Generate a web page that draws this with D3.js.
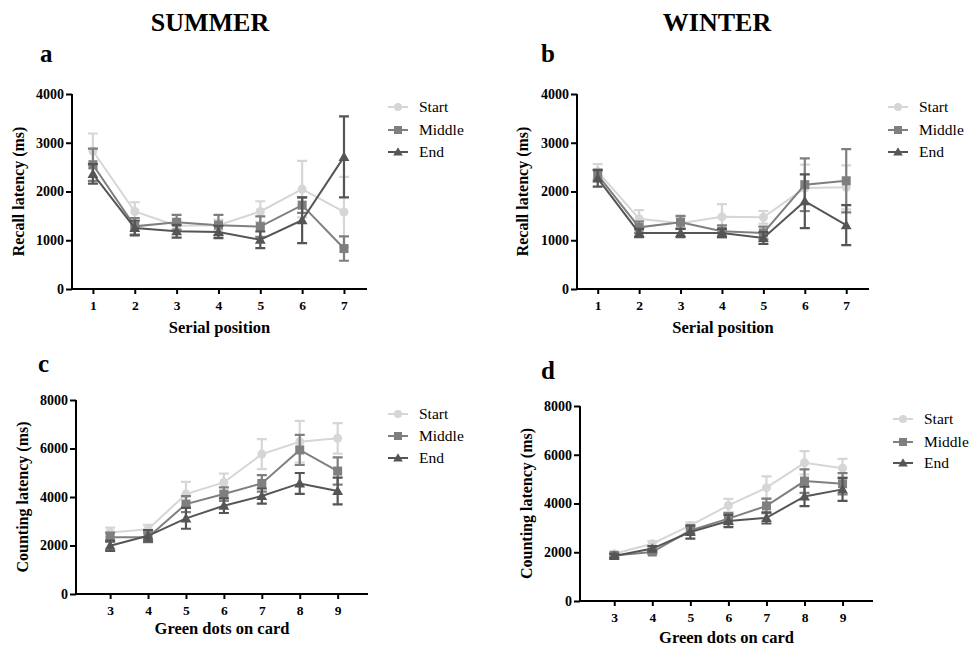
<!DOCTYPE html>
<html><head><meta charset="utf-8">
<script src="https://cdn.jsdelivr.net/npm/d3@7"></script>
<style>body{margin:0;background:#fff}svg{display:block}</style>
</head><body>
<svg id="chart" width="973" height="648"></svg>
<script>
// ---- data ----
const seriesNames = ["Start", "Middle", "End"];
const serialPositions = [1, 2, 3, 4, 5, 6, 7];
const greenDots = [3, 4, 5, 6, 7, 8, 9];

// Panel a: summer recall latency (ms)
const aStart = [2830, 1590, 1300, 1310, 1590, 2050, 1580];
const aStartErr = [360, 190, 110, 110, 210, 580, 720];
const aMiddle = [2550, 1285, 1370, 1310, 1280, 1720, 830];
const aMiddleErr = [330, 170, 150, 210, 210, 160, 250];
const aEnd = [2360, 1250, 1185, 1170, 1010, 1410, 2710];
const aEndErr = [200, 150, 130, 125, 170, 470, 830];

// Panel b: winter recall latency (ms)
const bStart = [2410, 1440, 1350, 1480, 1470, 2070, 2085];
const bStartErr = [150, 180, 120, 260, 130, 480, 450];
const bMiddle = [2340, 1265, 1370, 1185, 1150, 2140, 2220];
const bMiddleErr = [110, 120, 130, 120, 130, 540, 650];
const bEnd = [2270, 1150, 1150, 1150, 1045, 1800, 1310];
const bEndErr = [170, 85, 85, 85, 120, 550, 410];

// Panel c: summer counting latency (ms)
const cStart = [2540, 2670, 4120, 4600, 5770, 6280, 6420];
const cStartErr = [200, 180, 500, 370, 620, 860, 630];
const cMiddle = [2340, 2340, 3710, 4120, 4560, 5940, 5070];
const cMiddleErr = [190, 200, 330, 280, 340, 620, 560];
const cEnd = [1990, 2400, 3120, 3640, 4040, 4560, 4250];
const cEndErr = [210, 230, 430, 300, 310, 430, 550];

// Panel d: winter counting latency (ms)
const dStart = [1940, 2350, 3100, 3920, 4650, 5670, 5450];
const dStartErr = [90, 110, 120, 270, 460, 480, 380];
const dMiddle = [1870, 2010, 2900, 3380, 3900, 4920, 4810];
const dMiddleErr = [70, 80, 150, 230, 300, 480, 440];
const dEnd = [1850, 2150, 2830, 3280, 3410, 4290, 4580];
const dEndErr = [80, 100, 270, 250, 230, 400, 470];

const yTicksRecall = [0, 1000, 2000, 3000, 4000];
const yTicksCount = [0, 2000, 4000, 6000, 8000];

const columnTitles = ["SUMMER", "WINTER"];
const panelLetters = ["a", "b", "c", "d"];

// ---- drawing ----
const colors = {Start: "#d6d6d6", Middle: "#7f7f7f", End: "#555555"};
const serif = "'Liberation Serif','Times New Roman',serif";
const svg = d3.select("#chart");

svg.append("text").attr("x", 210).attr("y", 31).attr("text-anchor", "middle")
  .attr("font-family", serif).attr("font-weight", "bold").attr("font-size", 26).text(columnTitles[0]);
svg.append("text").attr("x", 717).attr("y", 31).attr("text-anchor", "middle")
  .attr("font-family", serif).attr("font-weight", "bold").attr("font-size", 26).text(columnTitles[1]);

const panels = [
  {letter: panelLetters[0], lx: 40, ly: 62, x0: 72, x1: 367, y0: 289, y1: 94, xd: [0.5, 7.55], xs: serialPositions,
   ymax: 4000, yt: yTicksRecall, ylab: "Recall latency (ms)", xlab: "Serial position", ylabX: 18, xlabOff: 44,
   series: [[aStart, aStartErr], [aMiddle, aMiddleErr], [aEnd, aEndErr]], legX: 388, legY: [107, 130, 152]},
  {letter: panelLetters[1], lx: 541, ly: 62, x0: 577, x1: 869, y0: 289, y1: 94, xd: [0.5, 7.55], xs: serialPositions,
   ymax: 4000, yt: yTicksRecall, ylab: "Recall latency (ms)", xlab: "Serial position", ylabX: 522, xlabOff: 44,
   series: [[bStart, bStartErr], [bMiddle, bMiddleErr], [bEnd, bEndErr]], legX: 888, legY: [107, 130, 152]},
  {letter: panelLetters[2], lx: 38, ly: 372, x0: 76, x1: 368, y0: 594, y1: 400, xd: [2.1, 9.8], xs: greenDots,
   ymax: 8000, yt: yTicksCount, ylab: "Counting latency (ms)", xlab: "Green dots on card", ylabX: 22, xlabOff: 40,
   series: [[cStart, cStartErr], [cMiddle, cMiddleErr], [cEnd, cEndErr]], legX: 388, legY: [414, 436, 458]},
  {letter: panelLetters[3], lx: 541, ly: 379, x0: 580, x1: 873, y0: 601, y1: 406, xd: [2.1, 9.8], xs: greenDots,
   ymax: 8000, yt: yTicksCount, ylab: "Counting latency (ms)", xlab: "Green dots on card", ylabX: 526, xlabOff: 42,
   series: [[dStart, dStartErr], [dMiddle, dMiddleErr], [dEnd, dEndErr]], legX: 893, legY: [419, 442, 463]}
];

function marker(g, name, cx, cy, size) {
  const c = colors[name];
  if (name === "Start") {
    g.append("circle").attr("cx", cx).attr("cy", cy).attr("r", size).attr("fill", c);
  } else if (name === "Middle") {
    g.append("rect").attr("x", cx - size).attr("y", cy - size).attr("width", size * 2).attr("height", size * 2).attr("fill", c);
  } else {
    const s = size * 1.2;
    g.append("path").attr("d", `M${cx},${cy - s}L${cx + s},${cy + s * 0.75}L${cx - s},${cy + s * 0.75}Z`).attr("fill", c);
  }
}

panels.forEach(p => {
  const g = svg.append("g");
  const x = d3.scaleLinear().domain(p.xd).range([p.x0, p.x1]);
  const y = d3.scaleLinear().domain([0, p.ymax]).range([p.y0, p.y1]);

  g.append("text").attr("x", p.lx).attr("y", p.ly).attr("font-family", serif).attr("font-weight", "bold")
    .attr("font-size", 25).text(p.letter);

  // axes
  const ya = g.append("g").attr("transform", `translate(${p.x0},0)`)
    .call(d3.axisLeft(y).tickValues(p.yt).tickSize(6).tickPadding(2).tickFormat(d3.format("d")));
  const xa = g.append("g").attr("transform", `translate(0,${p.y0})`)
    .call(d3.axisBottom(x).tickValues(p.xs).tickSize(5).tickPadding(6).tickFormat(d3.format("d")));
  [ya, xa].forEach(a => {
    a.select(".domain").attr("stroke", "#000").attr("stroke-width", 2);
    a.selectAll(".tick line").attr("stroke", "#000").attr("stroke-width", 2);
    a.selectAll("text").attr("font-family", serif).attr("font-weight", "bold").attr("fill", "#000");
  });
  ya.selectAll("text").attr("font-size", 14);
  xa.selectAll("text").attr("font-size", 13.5);
  ya.select(".domain").attr("d", `M-0,${p.y0}V${p.y1}`);
  xa.select(".domain").attr("d", `M${p.x0},0H${p.x1}`);

  g.append("text").attr("x", (p.x0 + p.x1) / 2).attr("y", p.y0 + p.xlabOff).attr("text-anchor", "middle")
    .attr("font-family", serif).attr("font-weight", "bold").attr("font-size", 16.5).text(p.xlab);
  g.append("text").attr("transform", `translate(${p.ylabX},${(p.y0 + p.y1) / 2}) rotate(-90)`)
    .attr("text-anchor", "middle").attr("dy", "0.35em")
    .attr("font-family", serif).attr("font-weight", "bold").attr("font-size", 16).text(p.ylab);

  // series
  p.series.forEach((s, i) => {
    const name = seriesNames[i];
    const c = colors[name];
    const vals = s[0], errs = s[1];
    const pts = p.xs.map((xv, j) => ({x: xv, v: vals[j], e: errs[j]}));
    const sg = g.append("g");
    sg.selectAll(".eb").data(pts).join("path")
      .attr("d", d => {
        const xx = x(d.x), t = y(d.v + d.e), b = y(d.v - d.e), w = 5;
        return `M${xx},${t}V${b}M${xx - w},${t}H${xx + w}M${xx - w},${b}H${xx + w}`;
      })
      .attr("stroke", c).attr("stroke-width", 2.2).attr("fill", "none");
    sg.append("path").datum(pts)
      .attr("d", d3.line().x(d => x(d.x)).y(d => y(d.v)))
      .attr("stroke", c).attr("stroke-width", 2).attr("fill", "none");
    pts.forEach(d => marker(sg, name, x(d.x), y(d.v), 4.5));
  });

  // legend
  seriesNames.forEach((name, i) => {
    const ly = p.legY[i];
    const lg = g.append("g");
    lg.append("line").attr("x1", p.legX).attr("x2", p.legX + 20).attr("y1", ly).attr("y2", ly)
      .attr("stroke", colors[name]).attr("stroke-width", 2);
    marker(lg, name, p.legX + 10, ly, 4);
    lg.append("text").attr("x", p.legX + 31).attr("y", ly).attr("dy", "0.35em")
      .attr("font-family", serif).attr("font-size", 15.5).attr("fill", "#000").text(name);
  });
});
</script>
</body></html>
